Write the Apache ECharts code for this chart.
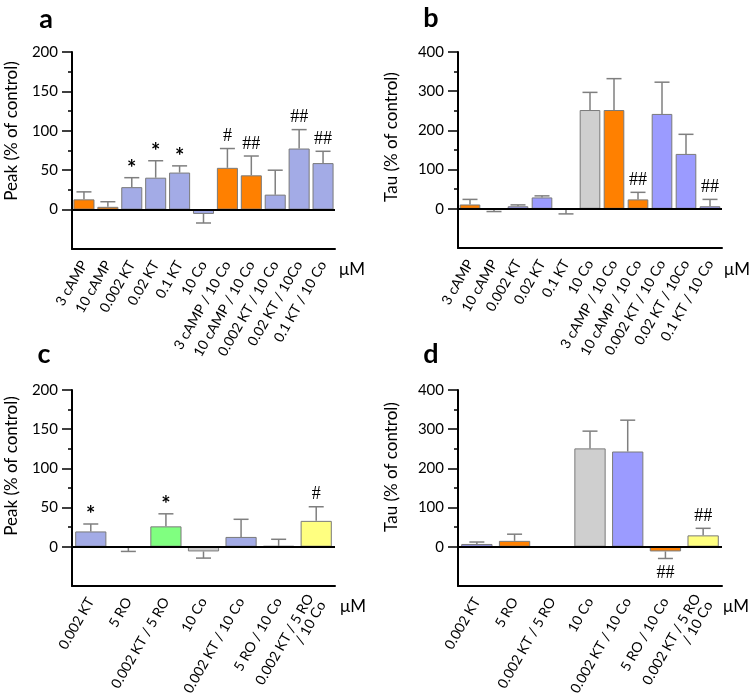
<!DOCTYPE html>
<html>
<head>
<meta charset="utf-8">
<script src="https://cdn.jsdelivr.net/npm/echarts@6/dist/echarts.min.js"></script>
<style>html,body{margin:0;padding:0;background:#fff}#c{width:750px;height:698px}</style>
</head>
<body>
<div id="c"></div>
<script>
// ---- data ----
const catsA = ['3 cAMP','10 cAMP','0.002 KT','0.02 KT','0.1 KT','10 Co','3 cAMP / 10 Co','10 cAMP / 10 Co','0.002 KT / 10 Co','0.02 KT / 10Co','0.1 KT / 10 Co'];
const peakA = [13, 3.5, 28.5, 40.5, 47, -5.5, 53, 43.5, 19, 77.5, 59];
const peakAErr = [22.5, 10, 40.5, 62, 55.5, -17, 77.5, 68, 50, 101.5, 74];
const peakASig = ['', '', '*', '*', '*', '', '#', '##', '', '##', '##'];

const tauB = [11, -2, 6.5, 29, -2, 252, 252, 24, 242, 140, 6.5];
const tauBErr = [24, -7, 10, 33, -13, 297, 332, 42, 323, 190, 24];
const tauBSig = ['', '', '', '', '', '', '', '##', '', '', '##'];

const catsC = ['0.002 KT','5 RO','0.002 KT / 5 RO','10 Co','0.002 KT / 10 Co','5 RO / 10 Co','0.002 KT / 5 RO\n/ 10 Co'];
const peakC = [19.5, -1, 26, -6, 12.5, 1, 33];
const peakCErr = [29, -6, 42, -14.5, 35, 9.5, 51];
const peakCSig = ['*', '', '*', '', '', '', '#'];

const tauD = [7, 15, 0, 251, 243, -12, 29];
const tauDErr = [12, 32, 0, 295, 323, -30, 47];
const tauDSig = ['', '', '', '', '', '##', '##'];

const peakTicks = [0, 50, 100, 150, 200];
const peakMinor = [25, 75, 125, 175];
const tauTicks = [0, 100, 200, 300, 400];
const tauMinor = [50, 150, 250, 350];

// ---- styles ----
const O = '#ff8000', B1 = '#a3abe6', B2 = '#9b9bff', G = '#cfcfcf', GR = '#80ff80', Y = '#ffff80';
const colorsA = [O, O, B1, B1, B1, B1, O, O, B1, B1, B1];
const colorsB = [O, O, B2, B2, B2, G, O, O, B2, B2, B2];
const colorsC = [B1, O, GR, G, B1, O, Y];
const colorsD = [B2, O, GR, G, B2, O, Y];
const FONT = 'Lato';

const grids = [
  {left: 72, top: 52, width: 263, height: 197},
  {left: 458, top: 52, width: 264, height: 196},
  {left: 72, top: 390, width: 263, height: 196},
  {left: 458, top: 390, width: 264, height: 196}
];
const panels = [
  {cats: catsA, vals: peakA, errs: peakAErr, sig: peakASig, colors: colorsA, min: -50, max: 200, ticks: peakTicks, minor: peakMinor, bw: '88%'},
  {cats: catsA, vals: tauB, errs: tauBErr, sig: tauBSig, colors: colorsB, min: -100, max: 400, ticks: tauTicks, minor: tauMinor, bw: '86%'},
  {cats: catsC, vals: peakC, errs: peakCErr, sig: peakCSig, colors: colorsC, min: -50, max: 200, ticks: peakTicks, minor: peakMinor, bw: '83%'},
  {cats: catsC, vals: tauD, errs: tauDErr, sig: tauDSig, colors: colorsD, min: -100, max: 400, ticks: tauTicks, minor: tauMinor, bw: '83%'}
];

const xAxis = [], yAxis = [], series = [];
panels.forEach((p, k) => {
  xAxis.push({
    type: 'category', gridIndex: k, data: p.cats, position: 'bottom',
    axisLine: {onZero: false, lineStyle: {color: '#000', width: 2}},
    axisTick: {alignWithLabel: true, length: 4, lineStyle: {color: '#000', width: 1.5}},
    axisLabel: {rotate: 60, interval: 0, margin: 13, color: '#000', fontFamily: FONT, fontSize: 14, lineHeight: 14}
  });
  yAxis.push({
    type: 'value', gridIndex: k, min: p.min, max: p.max, interval: (p.max) / 4,
    splitLine: {show: false},
    axisLine: {show: true, lineStyle: {color: '#000', width: 2}},
    axisTick: {show: true, length: 10, customValues: p.ticks, lineStyle: {color: '#000', width: 1.5}},
    axisLabel: {customValues: p.ticks, margin: 14, color: '#000', fontFamily: FONT, fontSize: 15}
  });
  yAxis.push({
    type: 'value', gridIndex: k, min: p.min, max: p.max, position: 'left', offset: 0,
    splitLine: {show: false},
    axisLine: {show: false},
    axisTick: {show: true, length: 4, customValues: p.minor, lineStyle: {color: '#000', width: 1.5}},
    axisLabel: {show: false}
  });
  series.push({
    type: 'bar', xAxisIndex: k, yAxisIndex: 2 * k, barWidth: p.bw,
    data: p.vals.map((v, i) => ({value: v, itemStyle: {color: p.colors[i]}})),
    itemStyle: {borderColor: '#7a7a7a', borderWidth: 1},
    z: 2,
    markLine: {
      silent: true, symbol: 'none', label: {show: false},
      lineStyle: {color: '#000', width: 2, type: 'solid'},
      data: [{yAxis: 0}], z: 5
    }
  });
  const sig = p.sig;
  series.push({
    type: 'custom', xAxisIndex: k, yAxisIndex: 2 * k, z: 3,
    data: p.vals.map((v, i) => [i, v, p.errs[i]]),
    renderItem: function (params, api) {
      const i = api.value(0), v = api.value(1), e = api.value(2);
      const p0 = api.coord([i, v]), p1 = api.coord([i, e]);
      const ch = [];
      const st = {stroke: '#7f7f7f', lineWidth: 1.5};
      if (v !== e) {
        ch.push({type: 'line', shape: {x1: p0[0], y1: p0[1], x2: p1[0], y2: p1[1]}, style: st});
        ch.push({type: 'line', shape: {x1: p1[0] - 7.5, y1: p1[1], x2: p1[0] + 7.5, y2: p1[1]}, style: st});
      }
      const s = sig[params.dataIndex];
      if (s) {
        const up = v >= 0;
        ch.push({type: 'text', style: {text: s, x: p1[0], y: up ? (s === '*' ? p1[1] - 9 : p1[1] - 12) : p1[1] + 15,
          align: 'center', verticalAlign: 'middle', fill: '#000',
          font: (s === '*' ? 'bold 22px Lato' : '18px "Liberation Serif"')}});
      }
      return {type: 'group', children: ch};
    }
  });
});

const txt = (t, x, y, font, rot) => ({type: 'text', x: x, y: y, rotation: rot || 0,
  style: {text: t, font: font, fill: '#000', align: 'center', verticalAlign: 'middle'}});
const graphic = [
  txt('a', 46, 19, 'bold 27px Lato'),
  txt('b', 431, 18, 'bold 27px Lato'),
  txt('c', 44, 354, 'bold 27px Lato'),
  txt('d', 431, 354, 'bold 27px Lato'),
  txt('Peak (% of control)', 12, 131, '17px Lato', Math.PI / 2),
  txt('Tau (% of control)', 392, 137, '17px Lato', Math.PI / 2),
  txt('Peak (% of control)', 12, 466, '17px Lato', Math.PI / 2),
  txt('Tau (% of control)', 392, 467, '17px Lato', Math.PI / 2),
  txt('\u03BCM', 352, 270, '17px Lato'),
  txt('\u03BCM', 737, 270, '17px Lato'),
  txt('\u03BCM', 353, 607, '17px Lato'),
  txt('\u03BCM', 736, 607, '17px Lato')
];

const chart = echarts.init(document.getElementById('c'), null, {renderer: 'canvas'});
chart.setOption({
  animation: false,
  backgroundColor: '#fff',
  grid: grids,
  xAxis: xAxis,
  yAxis: yAxis,
  series: series,
  graphic: graphic
});
</script>
</body>
</html>
